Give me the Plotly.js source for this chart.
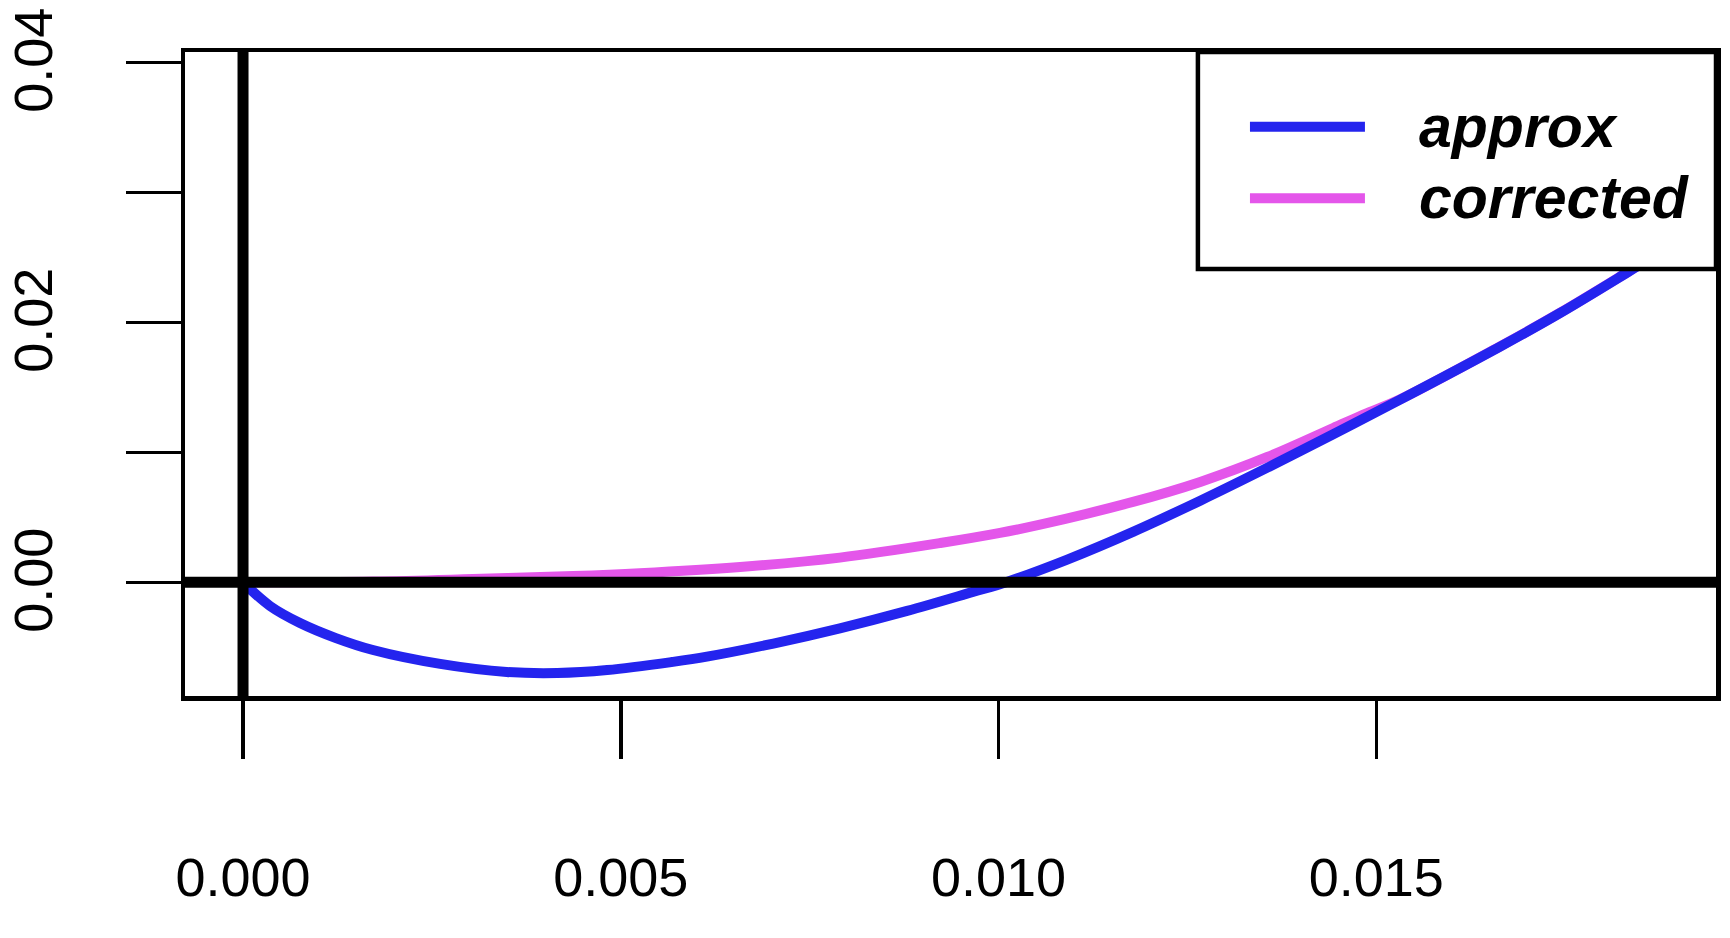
<!DOCTYPE html>
<html>
<head>
<meta charset="utf-8">
<script src="https://cdn.plot.ly/plotly-3.0.1.min.js"></script>
<style>
  html, body { margin: 0; padding: 0; background: #ffffff; }
  #chart { width: 1730px; height: 938px; }
</style>
</head>
<body>
<div id="chart"></div>
<script>
// ---- data ----
const approxX = [0, 0.000357, 0.000754, 0.00123, 0.00172, 0.00261, 0.00349, 0.00416, 0.00482, 0.00569,
                 0.00614, 0.00702, 0.00790, 0.00879, 0.00966, 0.01011, 0.01091, 0.01178, 0.01267, 0.01356,
                 0.01443, 0.01531, 0.01664, 0.01743, 0.01832, 0.01876];
const approxY = [0, -0.00182, -0.00313, -0.00429, -0.00521, -0.00628, -0.00690, -0.00698, -0.00675, -0.00612,
                 -0.00572, -0.00471, -0.00354, -0.00220, -0.00074, 0.00003, 0.00175, 0.00388, 0.00628, 0.00882,
                 0.01139, 0.01403, 0.01813, 0.02070, 0.02382, 0.02540];

const correctedX = [0, 0.00172, 0.00304, 0.00437, 0.00525, 0.00658, 0.00790, 0.00923, 0.01002, 0.01055,
                    0.01178, 0.01267, 0.01356, 0.01443, 0.01488, 0.01531, 0.01664, 0.01743, 0.01832, 0.01876];
const correctedY = [0, 0.00006, 0.00025, 0.00048, 0.00070, 0.00118, 0.00190, 0.00302, 0.00380, 0.00443,
                    0.00618, 0.00772, 0.00964, 0.01187, 0.01302, 0.01406, 0.01815, 0.02072, 0.02384, 0.02542];

const seriesNames = ["approx", "corrected"];
const seriesColors = ["#2424ee", "#e456ea"];

const xTickVals = [0, 0.005, 0.010, 0.015];
const xTickText = ["0.000", "0.005", "0.010", "0.015"];
const yTickVals = [0, 0.01, 0.02, 0.03, 0.04];
const yTickText = ["0.00", "", "0.02", "", "0.04"];

// ---- chart ----
const FONT = "Liberation Sans, Arial, Helvetica, sans-serif";

const traces = [
  { x: correctedX, y: correctedY, type: "scatter", mode: "lines", name: seriesNames[1],
    line: { color: seriesColors[1], width: 10, shape: "spline", smoothing: 1 }, showlegend: false },
  { x: approxX, y: approxY, type: "scatter", mode: "lines", name: seriesNames[0],
    line: { color: seriesColors[0], width: 10, shape: "spline", smoothing: 1 }, showlegend: false }
];

// legend geometry (paper coords)
const lg = { x0: 0.6616, x1: 1.0, y0: 0.663, y1: 1.0, lineX0: 0.6956, lineX1: 0.7707, textX: 0.8047,
             rows: [0.884, 0.773] };

const shapes = [
  { type: "line", xref: "x", yref: "paper", x0: 0, x1: 0, y0: 0, y1: 1, line: { color: "#000", width: 11 } },
  { type: "line", xref: "paper", yref: "y", x0: 0, x1: 1, y0: 0, y1: 0, line: { color: "#000", width: 11 } },
  { type: "rect", xref: "paper", yref: "paper", x0: lg.x0, x1: lg.x1, y0: lg.y0, y1: lg.y1,
    fillcolor: "#ffffff", line: { color: "#000", width: 4.5 } }
];
const annotations = [];
seriesNames.forEach((nm, i) => {
  shapes.push({ type: "line", xref: "paper", yref: "paper", x0: lg.lineX0, x1: lg.lineX1,
                y0: lg.rows[i], y1: lg.rows[i], line: { color: seriesColors[i], width: 10 } });
  annotations.push({ xref: "paper", yref: "paper", x: lg.textX, y: lg.rows[i], xanchor: "left", yanchor: "middle",
                     text: nm, showarrow: false,
                     font: { family: FONT, size: 59, color: "#000", weight: "bold", style: "italic" } });
});

const layout = {
  width: 1730, height: 938,
  paper_bgcolor: "#ffffff", plot_bgcolor: "#ffffff",
  margin: { l: 185, r: 14, t: 52, b: 242, pad: 0 },
  showlegend: false,
  font: { family: FONT, size: 54, color: "#000" },
  xaxis: {
    range: [-0.000768, 0.019497], showgrid: false, zeroline: false,
    showline: true, mirror: true, linecolor: "#000", linewidth: 4.5,
    ticks: "outside", ticklen: 58, tickwidth: 3.5, tickcolor: "#000",
    tickmode: "array", tickvals: xTickVals, ticktext: xTickText,
    tickfont: { family: FONT, size: 54, color: "#000" }, ticklabelstandoff: 73,
    ticklabeloverflow: "allow"
  },
  yaxis: {
    range: [-0.008746, 0.04079], showgrid: false, zeroline: false,
    showline: true, mirror: true, linecolor: "#000", linewidth: 4.5,
    ticks: "outside", ticklen: 55, tickwidth: 3.5, tickcolor: "#000",
    tickmode: "array", tickvals: yTickVals, ticktext: yTickText, tickangle: -90,
    tickfont: { family: FONT, size: 54, color: "#000" }, ticklabelstandoff: 52,
    ticklabelshift: 6, ticklabeloverflow: "allow"
  },
  shapes: shapes,
  annotations: annotations
};

Plotly.newPlot("chart", traces, layout, { staticPlot: true, displayModeBar: false });
</script>
</body>
</html>
